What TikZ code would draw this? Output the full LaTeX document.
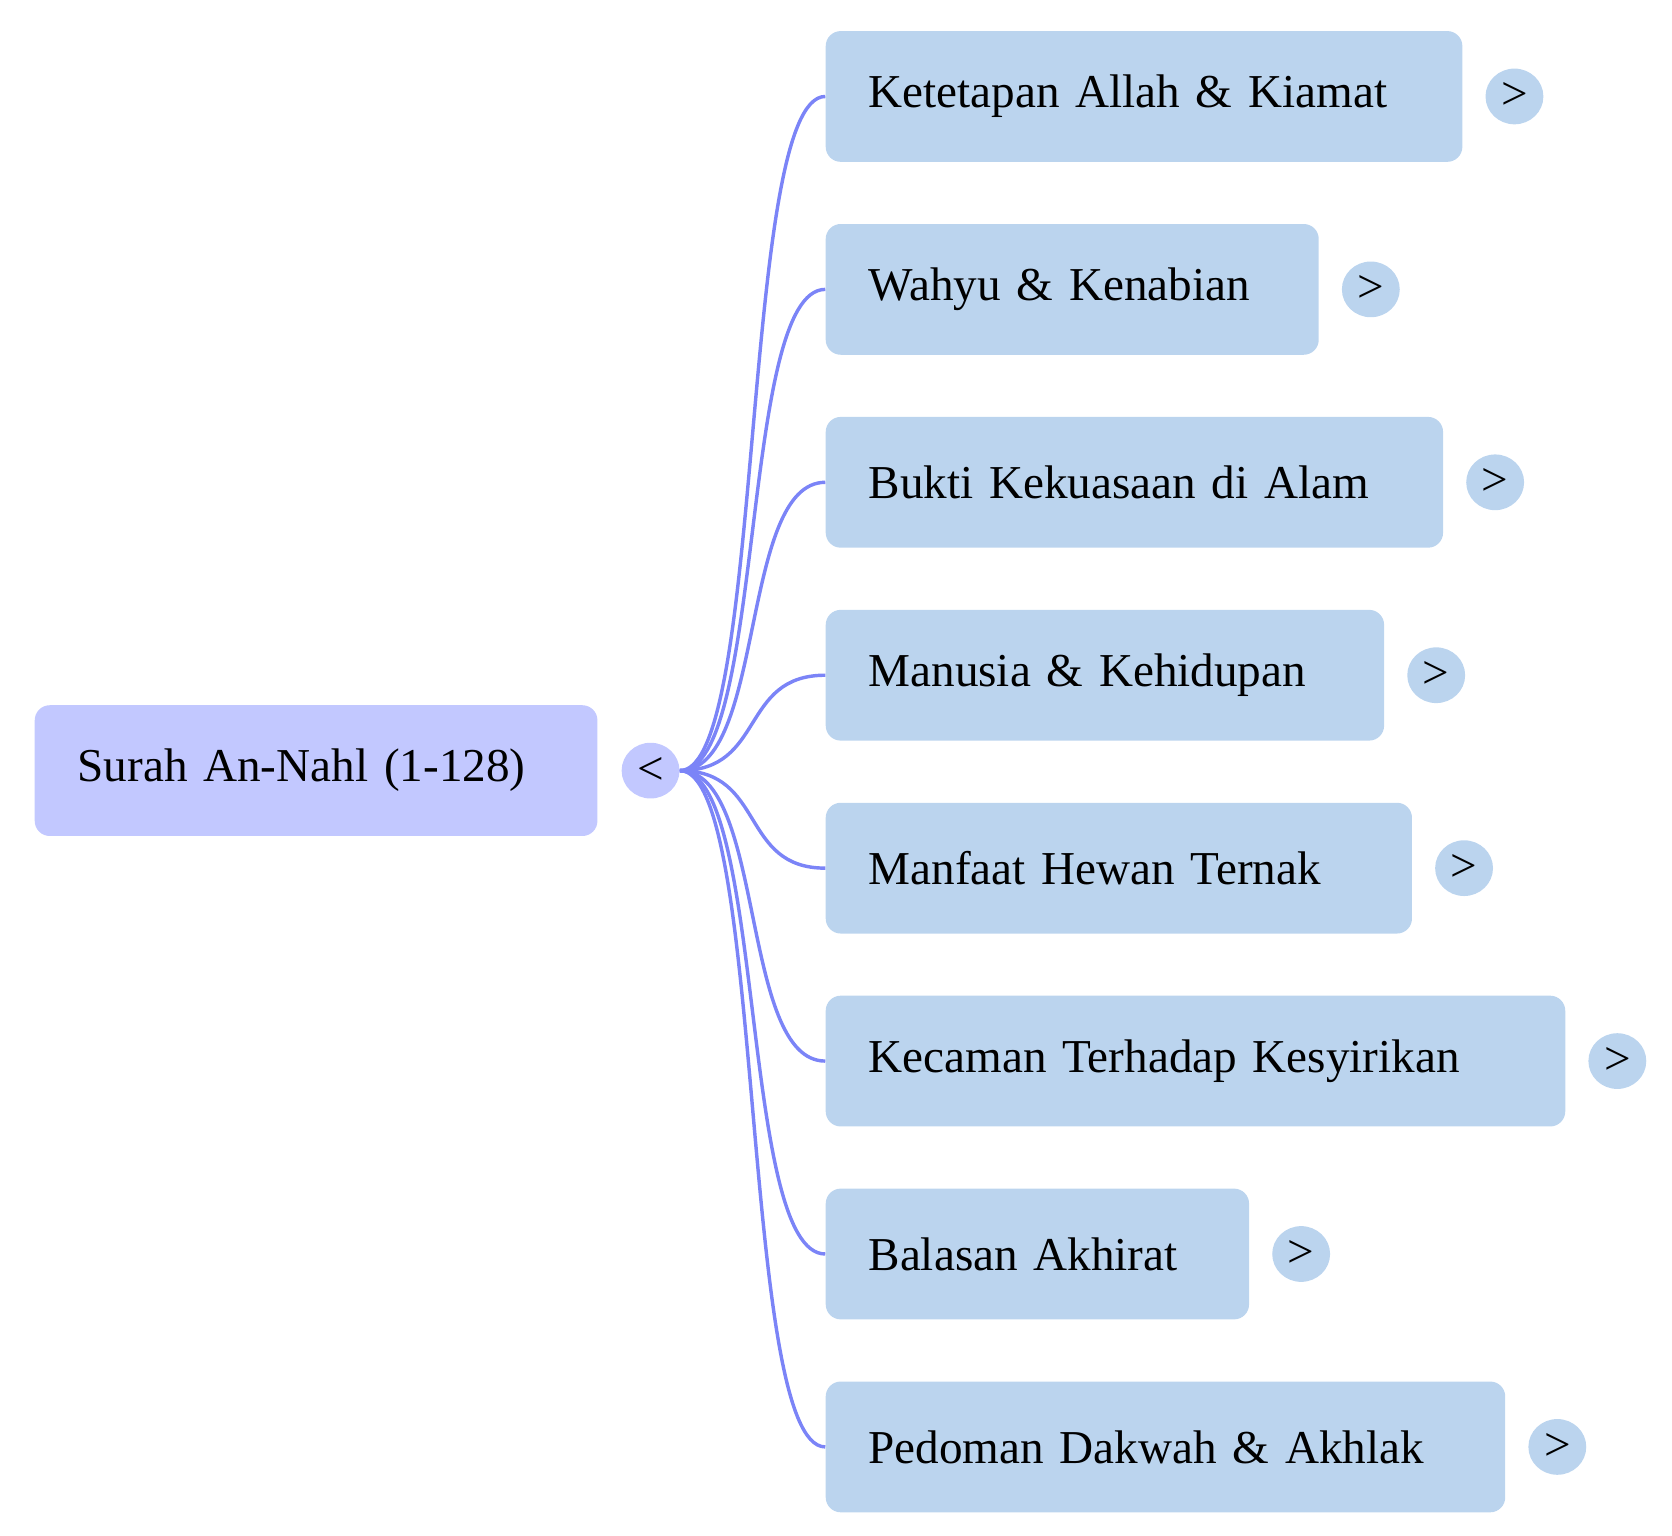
\documentclass[tikz,border=0pt]{standalone}
\usepackage{fontspec}
\setmainfont{Liberation Serif}
\usetikzlibrary{shapes.geometric}
\definecolor{rootfill}{HTML}{C2C8FF}
\definecolor{topicfill}{HTML}{BBD4EE}
\definecolor{linkcol}{HTML}{7B84F7}
\begin{document}
\begin{tikzpicture}[x=0.5pt,y=-0.5pt]
		\tikzstyle{box}=[rounded corners=7pt,inner xsep=20pt,minimum height=61pt,anchor=west,align=left,font=\fontsize{22}{25}\selectfont]
		\tikzstyle{knob}=[ellipse,minimum width=27pt,minimum height=26pt,inner sep=0pt,font=\fontsize{22}{25}\selectfont]
		\tikzstyle{link}=[draw=linkcol,line width=1.6pt]
		\useasboundingbox (0,0) rectangle (1560,1433);
		\begin{scope}
		\node[box,fill=rootfill,text width=222.5pt] (root) at (32,719) {Surah An-Nahl (1-128)};
		\node[knob,fill=rootfill] (rk) at (607,719) {<};
		\end{scope}
		\foreach \y/\w/\name/\txt in {
			90/1364/t1/Ketetapan Allah \& Kiamat,
			270/1230/t2/Wahyu \& Kenabian,
			450/1346/t3/Bukti Kekuasaan di Alam,
			630/1291/t4/Manusia \& Kehidupan,
			810/1317/t5/Manfaat Hewan Ternak,
			990/1460/t6/Kecaman Terhadap Kesyirikan,
			1170/1165/t7/Balasan Akhirat,
			1350/1404/t8/Pedoman Dakwah \& Akhlak}
		{
		\pgfmathsetmacro{\tw}{(\w-770)/2-40}
		\node[box,fill=topicfill,text width=\tw pt] (\name) at (770,\y) {\txt};
		\node[knob,fill=topicfill] (\name k) at (\w+49,\y) {>};
		\draw[link] (rk.east) .. controls +(40pt,0) and +(-40pt,0) .. (\name.west);
		}
\end{tikzpicture}
\end{document}
